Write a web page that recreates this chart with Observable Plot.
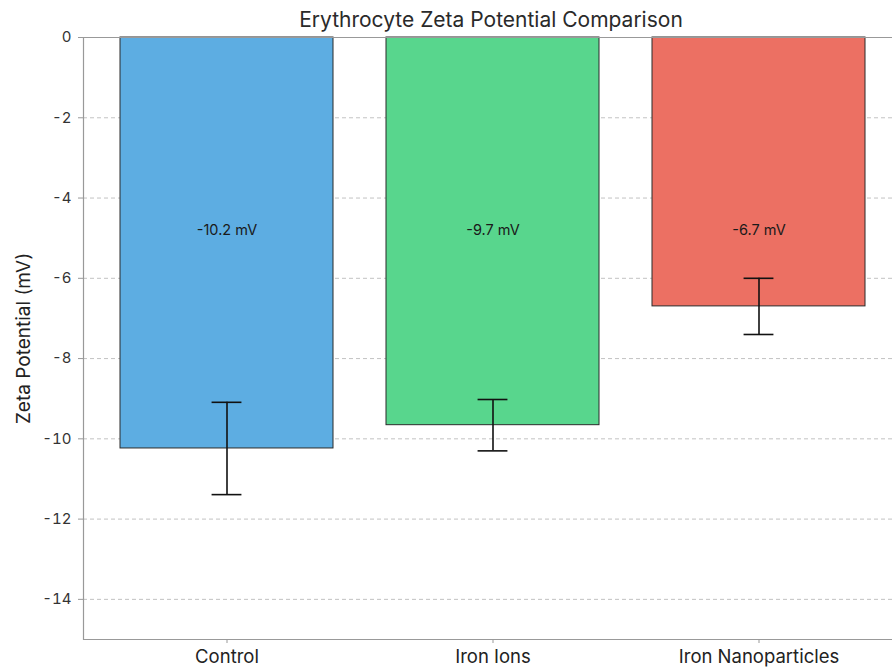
<!DOCTYPE html>
<html>
<head>
<meta charset="utf-8">
<script src="https://cdn.jsdelivr.net/npm/d3@7"></script>
<script src="https://cdn.jsdelivr.net/npm/@observablehq/plot@0.6"></script>
<style>
  html, body { margin: 0; padding: 0; background: white; }
</style>
</head>
<body>
<div id="chart"></div>
<script>
const title = "Erythrocyte Zeta Potential Comparison";
const yLabel = "Zeta Potential (mV)";
const categories = ["Control", "Iron Ions", "Iron Nanoparticles"];
const means = [-10.24, -9.66, -6.70];
const errors = [1.15, 0.64, 0.70];
const colors = ["#5DADE2", "#58D68D", "#EC7063"];
const yTicks = [0, -2, -4, -6, -8, -10, -12, -14];
const yDomain = [-15, 0];
const labelY = -4.8;

const data = categories.map((c, i) => ({
  cat: c,
  mean: means[i],
  lo: means[i] - errors[i],
  hi: means[i] + errors[i],
  color: colors[i],
  label: `${means[i].toFixed(1)} mV`
}));

const W = 892, H = 668;
const mLeft = 83, mTop = 37, axisBottom = 639, rightEdge = 902;
const capHalf = 15;
const band = (rightEdge - mLeft) / (3 - 0.2 + 2 * 0.137) * 0.8;
const capInset = band / 2 - capHalf;

const chart = Plot.plot({
  width: W,
  height: H,
  marginLeft: mLeft,
  marginRight: 0,
  marginTop: mTop,
  marginBottom: H - axisBottom,
  style: { fontFamily: "Inter, 'Open Sans', sans-serif", background: "white", overflow: "visible" },
  x: { domain: categories, range: [mLeft, rightEdge], paddingInner: 0.2, paddingOuter: 0.137, align: 0.5 },
  y: { domain: yDomain },
  color: { type: "identity" },
  marks: [
    Plot.gridY(yTicks, { stroke: "#bbb", strokeOpacity: 0.9, strokeDasharray: "4,3" }),
    Plot.barY(data, { x: "cat", y1: 0, y2: "mean", fill: "color", stroke: "#2b2b2b", strokeWidth: 1 }),
    Plot.ruleX(data, { x: "cat", y1: "lo", y2: "hi", stroke: "#111", strokeWidth: 1.6 }),
    Plot.tickY(data, { x: "cat", y: "lo", insetLeft: capInset, insetRight: capInset, stroke: "#111", strokeWidth: 1.6 }),
    Plot.tickY(data, { x: "cat", y: "hi", insetLeft: capInset, insetRight: capInset, stroke: "#111", strokeWidth: 1.6 }),
    Plot.text(data, { x: "cat", y: () => labelY, text: "label", fontSize: 14.5, fill: "#1a1a1a" }),
    Plot.ruleY(yDomain, { stroke: "#999", strokeWidth: 1.2 }),
    Plot.frame({ anchor: "left", stroke: "#999", strokeWidth: 1.2 }),
    Plot.axisY(yTicks, { tickSize: 5, tickPadding: 7, fontSize: 15, label: null, stroke: "#999", color: "#333", tickFormat: d => String(d) }),
    Plot.axisX({ tickSize: 4, tickPadding: 6, fontSize: 18.5, label: null, stroke: "#999", color: "#222" }),
    Plot.text([title], { frameAnchor: "top", lineAnchor: "middle", dx: 3, dy: -17, fontSize: 21, fill: "#2a2a2a" }),
    Plot.text([yLabel], { frameAnchor: "left", textAnchor: "middle", lineAnchor: "middle", dx: -60, rotate: -90, fontSize: 19, fill: "#222" })
  ]
});

document.getElementById("chart").appendChild(chart);
</script>
</body>
</html>
